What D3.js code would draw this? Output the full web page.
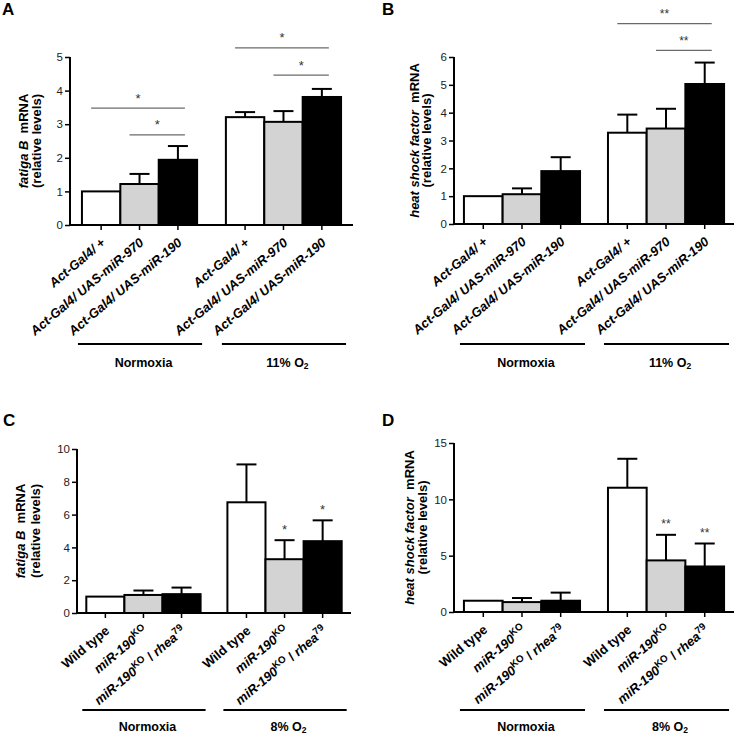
<!DOCTYPE html>
<html><head><meta charset="utf-8">
<script src="https://cdn.jsdelivr.net/npm/d3@7"></script>
<style>body{margin:0;background:#fff} svg{display:block;font-family:"Liberation Sans",Arial,sans-serif}</style>
</head><body><svg id="c" width="735" height="734"></svg>
<script>
// ---------- data ----------
const groupsAB = ["Normoxia", "11% O2"];
const groupsCD = ["Normoxia", "8% O2"];
const genotypesAB = ["Act-Gal4/ +", "Act-Gal4/ UAS-miR-970", "Act-Gal4/ UAS-miR-190"];
const genotypesCD = ["Wild type", "miR-190KO", "miR-190KO / rhea79"];
const fills = ["#ffffff", "#d3d3d3", "#000000"];

const valuesA = [[1.0, 1.22, 1.94], [3.21, 3.07, 3.81]];
const errorsA = [[0, 0.30, 0.41], [0.15, 0.32, 0.24]];
const ticksA = [0, 1, 2, 3, 4, 5];
const sigA = [
  {group: 0, from: 0, to: 2, y: 3.48, label: "*"},
  {group: 0, from: 1, to: 2, y: 2.68, label: "*"},
  {group: 1, from: 0, to: 2, y: 5.27, label: "*"},
  {group: 1, from: 1, to: 2, y: 4.46, label: "*"}
];

const valuesB = [[1.0, 1.07, 1.9], [3.28, 3.43, 5.03]];
const errorsB = [[0, 0.21, 0.5], [0.65, 0.71, 0.77]];
const ticksB = [0, 1, 2, 3, 4, 5, 6];
const sigB = [
  {group: 1, from: 0, to: 2, y: 7.2, label: "**"},
  {group: 1, from: 1, to: 2, y: 6.24, label: "**"}
];

const valuesC = [[1.0, 1.1, 1.15], [6.75, 3.28, 4.38]];
const errorsC = [[0, 0.27, 0.4], [2.31, 1.16, 1.27]];
const ticksC = [0, 2, 4, 6, 8, 10];
const starsC = [{group: 1, bar: 1, label: "*"}, {group: 1, bar: 2, label: "*"}];

const valuesD = [[1.0, 0.88, 1.0], [11.03, 4.58, 4.04]];
const errorsD = [[0, 0.36, 0.72], [2.57, 2.27, 2.04]];
const ticksD = [0, 5, 10, 15];
const starsD = [{group: 1, bar: 1, label: "**"}, {group: 1, bar: 2, label: "**"}];

// rich label parts: [text, style]
const labelPartsAB = genotypesAB.map(t => [[t, "i"]]);
const labelPartsCD = [
  [["Wild type", "n"]],
  [["miR-190", "i"], ["KO", "sup"]],
  [["miR-190", "i"], ["KO", "sup"], [" / ", "n"], ["rhea", "i"], ["79", "sup"]]
];

// ---------- drawing ----------
const svg = d3.select("#c");
const FONT = '"Liberation Sans",Arial,sans-serif';
const XFS = 13;

function richText(sel, parts, size) {
  let sup = false;
  parts.forEach(([t, s]) => {
    const ts = sel.append("tspan").text(t);
    if (s === "i") ts.attr("font-style", "italic");
    if (s === "sup") { ts.attr("font-size", size * 0.75).attr("dy", -5); sup = true; }
    else if (sup) { ts.attr("dy", 5); sup = false; }
  });
}

function panel(cfg) {
  const g = svg.append("g");
  const y = d3.scaleLinear().domain([0, cfg.max]).range([cfg.bottom, cfg.top]);
  const xg = d3.scaleBand().domain(d3.range(cfg.groups.length)).range([cfg.left, cfg.right])
    .paddingInner(cfg.pi).paddingOuter(cfg.po);
  const xb = d3.scaleBand().domain(d3.range(3)).range([0, xg.bandwidth()]);
  const cx = (gi, bi) => xg(gi) + xb(bi) + xb.bandwidth() / 2;

  // bars
  const flat = [];
  cfg.values.forEach((row, gi) => row.forEach((v, bi) => flat.push({gi, bi, v, e: cfg.errors[gi][bi]})));
  g.selectAll("rect.bar").data(flat).join("rect")
    .attr("x", d => xg(d.gi) + xb(d.bi)).attr("width", xb.bandwidth())
    .attr("y", d => y(d.v)).attr("height", d => y(0) - y(d.v))
    .attr("fill", d => fills[d.bi]).attr("stroke", "#000").attr("stroke-width", 2);
  // error bars
  const eb = g.selectAll("g.err").data(flat.filter(d => d.e > 0)).join("g");
  eb.append("line").attr("x1", d => cx(d.gi, d.bi)).attr("x2", d => cx(d.gi, d.bi))
    .attr("y1", d => y(d.v)).attr("y2", d => y(d.v + d.e)).attr("stroke", "#000").attr("stroke-width", 2);
  eb.append("line").attr("x1", d => cx(d.gi, d.bi) - 10).attr("x2", d => cx(d.gi, d.bi) + 10)
    .attr("y1", d => y(d.v + d.e)).attr("y2", d => y(d.v + d.e)).attr("stroke", "#000").attr("stroke-width", 2);

  // y axis
  const ya = g.append("g").attr("transform", `translate(${cfg.left},0)`)
    .call(d3.axisLeft(y).tickValues(cfg.ticks).tickFormat(d3.format("d")).tickSize(5).tickSizeOuter(0).tickPadding(2));
  ya.select(".domain").attr("stroke-width", 2).attr("d", `M0,${cfg.bottom + 1}V${cfg.top}`);
  ya.selectAll(".tick line").attr("stroke-width", 1.5);
  ya.selectAll(".tick text").attr("font-family", FONT).attr("font-size", 11.5).attr("fill", "#222");

  // x axis
  g.append("line").attr("x1", cfg.left - 1).attr("x2", cfg.right).attr("y1", cfg.bottom).attr("y2", cfg.bottom)
    .attr("stroke", "#000").attr("stroke-width", 2);
  g.selectAll("line.xt").data(flat).join("line")
    .attr("x1", d => cx(d.gi, d.bi)).attr("x2", d => cx(d.gi, d.bi))
    .attr("y1", cfg.bottom).attr("y2", cfg.bottom + 5).attr("stroke", "#000").attr("stroke-width", 1.5);
  g.selectAll("text.xl").data(flat).join("text")
    .attr("transform", d => `translate(${cx(d.gi, d.bi) + 5},${cfg.bottom + 19}) rotate(-40)`)
    .attr("text-anchor", "end").attr("font-size", XFS).attr("font-weight", "bold").attr("fill", "#000")
    .each(function(d) { richText(d3.select(this), cfg.labelParts[d.bi], XFS); });

  // group lines & labels
  cfg.groups.forEach((name, gi) => {
    g.append("line").attr("x1", xg(gi) - 4).attr("x2", xg(gi) + xg.bandwidth() + 5)
      .attr("y1", cfg.groupLineY).attr("y2", cfg.groupLineY).attr("stroke", "#000").attr("stroke-width", 2);
    const t = g.append("text").attr("x", xg(gi) + xg.bandwidth() / 2 + 4).attr("y", cfg.groupLineY + cfg.groupLabelDy)
      .attr("text-anchor", "middle").attr("font-size", 12.5).attr("font-weight", "bold");
    const m = name.match(/^(.*O)2$/);
    if (m) { t.append("tspan").text(m[1]); t.append("tspan").text("2").attr("font-size", 8.5).attr("dy", 2); }
    else t.text(name);
  });

  // significance lines
  (cfg.sig || []).forEach(s => {
    const x1 = cx(s.group, s.from) - 10, x2 = cx(s.group, s.to) + 7, yy = y(s.y);
    g.append("line").attr("x1", x1).attr("x2", x2).attr("y1", yy).attr("y2", yy)
      .attr("stroke", "#6a6a6a").attr("stroke-width", 1.3);
    g.append("text").attr("x", (x1 + x2) / 2).attr("y", yy - 5.5).attr("text-anchor", "middle")
      .attr("font-size", s.label.length > 1 ? 12 : 13).attr("fill", "#333").text(s.label);
  });
  (cfg.stars || []).forEach(s => {
    const v = cfg.values[s.group][s.bar] + cfg.errors[s.group][s.bar];
    g.append("text").attr("x", cx(s.group, s.bar)).attr("y", y(v) - 6.5).attr("text-anchor", "middle")
      .attr("font-size", s.label.length > 1 ? 12 : 13).attr("fill", "#333").text(s.label);
  });

  // y label
  const my = (cfg.top + cfg.bottom) / 2;
  const l1 = g.append("text").attr("transform", `translate(${cfg.yl1},${my}) rotate(-90)`)
    .attr("text-anchor", "middle").attr("font-size", 13).attr("font-weight", "bold");
  l1.append("tspan").text(cfg.yItalic).attr("font-style", "italic");
  l1.append("tspan").text("\u00a0 mRNA");
  g.append("text").attr("transform", `translate(${cfg.yl2},${my}) rotate(-90)`)
    .attr("text-anchor", "middle").attr("font-size", 13).attr("font-weight", "bold").text("(relative levels)");

  // panel letter
  g.append("text").attr("x", cfg.letterX).attr("y", cfg.letterY).attr("font-size", 17)
    .attr("font-weight", "bold").text(cfg.letter);
}

panel({letter: "A", letterX: 2, letterY: 15, values: valuesA, errors: errorsA, ticks: ticksA, max: 5,
  left: 70, right: 353, top: 57, bottom: 225, pi: 0.2, po: 0.083, groups: groupsAB,
  labelParts: labelPartsAB, groupLineY: 344, groupLabelDy: 23, sig: sigA, yItalic: "fatiga B", yl1: 28, yl2: 41});
panel({letter: "B", letterX: 382, letterY: 15, values: valuesB, errors: errorsB, ticks: ticksB, max: 6,
  left: 454, right: 734, top: 57, bottom: 224, pi: 0.194, po: 0.069, groups: groupsAB,
  labelParts: labelPartsAB, groupLineY: 344, groupLabelDy: 23, sig: sigB, yItalic: "heat shock factor", yl1: 419, yl2: 431});
panel({letter: "C", letterX: 3, letterY: 426, values: valuesC, errors: errorsC, ticks: ticksC, max: 10,
  left: 77, right: 351, top: 449, bottom: 613, pi: 0.19, po: 0.066, groups: groupsCD,
  labelParts: labelPartsCD, groupLineY: 710, groupLabelDy: 21, stars: starsC, yItalic: "fatiga B", yl1: 25, yl2: 40});
panel({letter: "D", letterX: 382, letterY: 426, values: valuesD, errors: errorsD, ticks: ticksD, max: 15,
  left: 454, right: 734, top: 443, bottom: 612, pi: 0.194, po: 0.069, groups: groupsCD,
  labelParts: labelPartsCD, groupLineY: 710, groupLabelDy: 21, stars: starsD, yItalic: "heat shock factor", yl1: 414, yl2: 427});
</script></body></html>
